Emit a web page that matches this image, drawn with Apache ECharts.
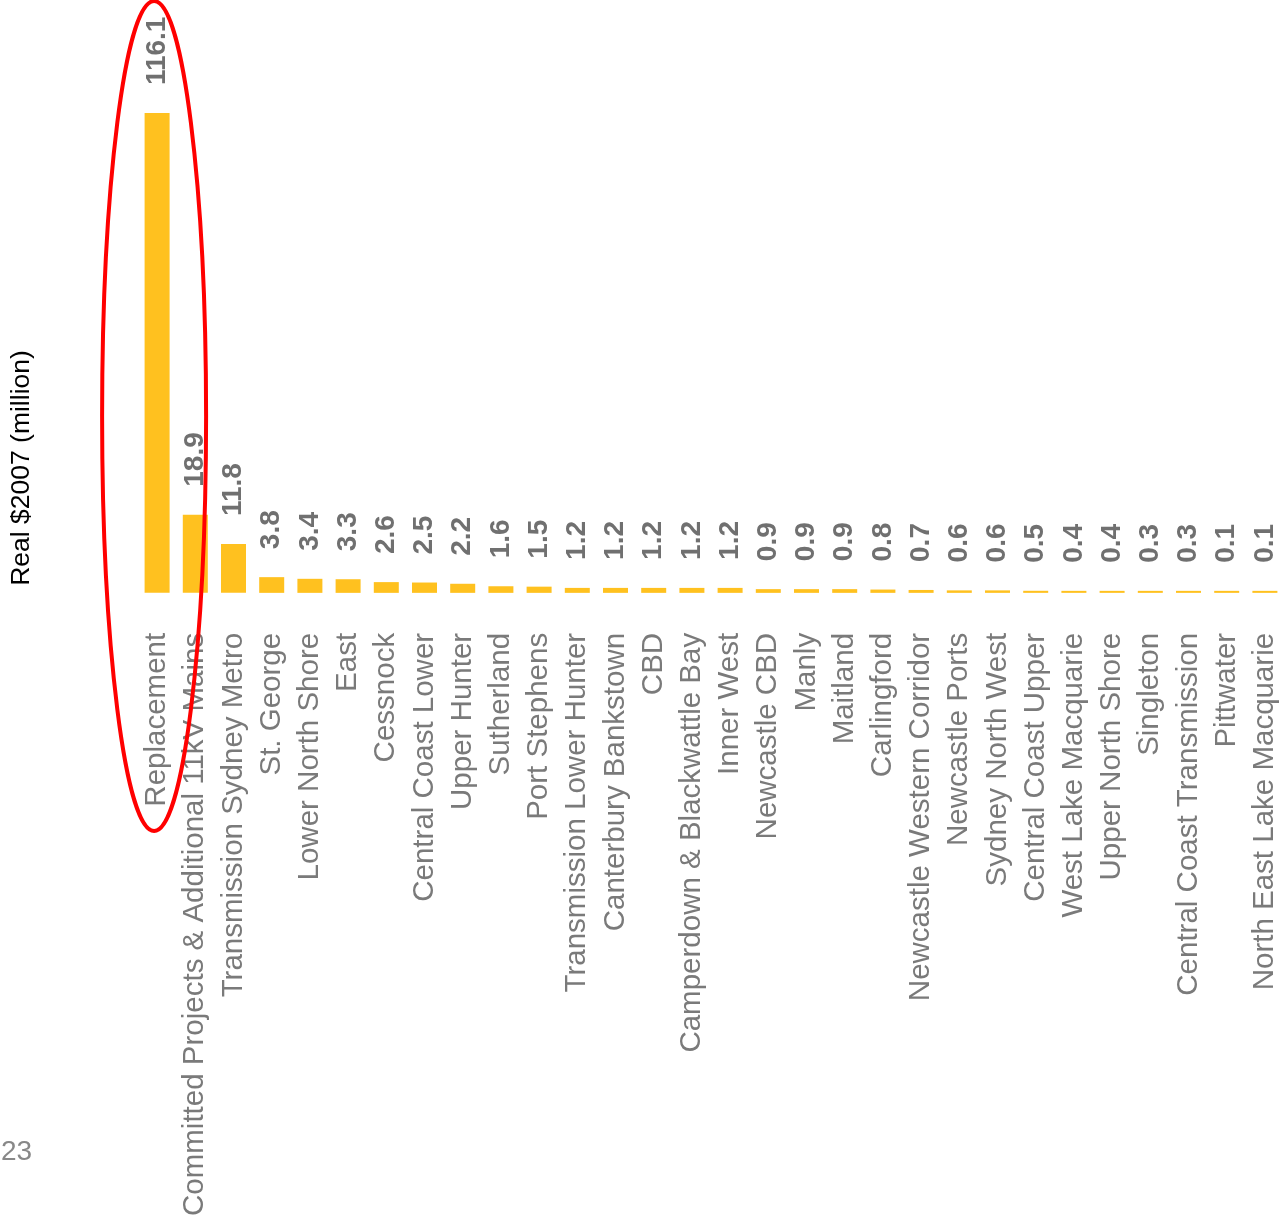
<!DOCTYPE html>
<html>
<head>
<meta charset="utf-8">
<script src="https://cdn.jsdelivr.net/npm/echarts@6/dist/echarts.min.js"></script>
<style>html,body{margin:0;padding:0;background:#fff;}#c{width:1284px;height:1219px;}</style>
</head>
<body>
<div id="c"></div>
<script>
const categories = [
  "Replacement",
  "Committed Projects & Additional 11kV Mains",
  "Transmission Sydney Metro",
  "St. George",
  "Lower North Shore",
  "East",
  "Cessnock",
  "Central Coast Lower",
  "Upper Hunter",
  "Sutherland",
  "Port Stephens",
  "Transmission Lower Hunter",
  "Canterbury Bankstown",
  "CBD",
  "Camperdown & Blackwattle Bay",
  "Inner West",
  "Newcastle CBD",
  "Manly",
  "Maitland",
  "Carlingford",
  "Newcastle Western Corridor",
  "Newcastle Ports",
  "Sydney North West",
  "Central Coast Upper",
  "West Lake Macquarie",
  "Upper North Shore",
  "Singleton",
  "Central Coast Transmission",
  "Pittwater",
  "North East Lake Macquarie"
];
const values = [116.1, 18.9, 11.8, 3.8, 3.4, 3.3, 2.6, 2.5, 2.2, 1.6, 1.5, 1.2, 1.2, 1.2, 1.2, 1.2, 0.9, 0.9, 0.9, 0.8, 0.7, 0.6, 0.6, 0.5, 0.4, 0.4, 0.3, 0.3, 0.1, 0.1];
const yAxisTitle = "Real $2007 (million)";
const pageNumber = "23";

const chart = echarts.init(document.getElementById('c'), null, {renderer: 'canvas'});
const option = {
  animation: false,
  backgroundColor: '#ffffff',
  grid: {left: 138, top: 97, width: 1147, bottom: 624, containLabel: false},
  xAxis: {
    type: 'category',
    data: categories,
    axisLine: {show: false},
    axisTick: {show: false},
    axisLabel: {
      interval: 0,
      rotate: 90,
      margin: 40,
      color: '#7a7a7a',
      fontSize: 29.5,
      fontFamily: 'Liberation Sans'
    }
  },
  yAxis: {
    type: 'value',
    min: 0,
    max: 120,
    show: false,
    splitLine: {show: false}
  },
  series: [{
    type: 'bar',
    data: values,
    barWidth: 25,
    barMinHeight: 2,
    itemStyle: {color: '#FFC11F'},
    label: {
      show: true,
      position: 'top',
      distance: 28,
      rotate: 90,
      align: 'left',
      verticalAlign: 'middle',
      color: '#707070',
      fontSize: 28,
      fontWeight: 'bold',
      fontFamily: 'Liberation Sans',
      formatter: p => p.value.toFixed(1)
    }
  }]
};
chart.setOption(option);

const cx0 = chart.convertToPixel({xAxisIndex: 0}, categories[0]);
chart.setOption({
  graphic: [
    {
      type: 'text',
      x: 22, y: 468,
      rotation: Math.PI / 2,
      style: {text: yAxisTitle, fill: '#000', fontSize: 26.5, fontFamily: 'Liberation Sans', align: 'center', verticalAlign: 'middle'}
    },
    {
      type: 'text',
      x: 1, y: 1152,
      style: {text: pageNumber, fill: '#888', fontSize: 28, fontFamily: 'Liberation Sans', align: 'left', verticalAlign: 'middle'}
    },
    {
      type: 'ellipse',
      z: 100,
      shape: {cx: cx0 - 3, cy: 416, rx: 52, ry: 415},
      style: {fill: 'none', stroke: '#ff0000', lineWidth: 4}
    }
  ]
});
</script>
</body>
</html>
